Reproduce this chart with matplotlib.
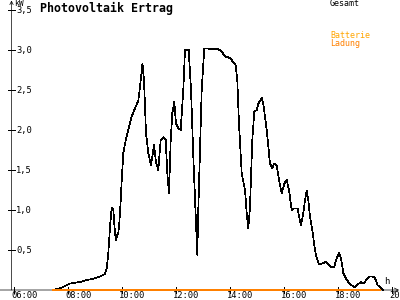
import matplotlib
matplotlib.use("Agg")
import matplotlib.pyplot as plt

# ---- data ----
gesamt_t = [7.456, 7.767, 8.074, 8.444, 8.693, 8.937, 9.185, 9.370, 9.433, 9.493,
            9.556, 9.619, 9.678, 9.741, 9.778, 9.826, 9.863, 9.900, 9.952, 9.989,
            10.048, 10.111, 10.233, 10.359, 10.481, 10.604, 10.667, 10.759, 10.815, 10.889,
            10.974, 11.074, 11.185, 11.259, 11.344, 11.433, 11.530, 11.619, 11.678, 11.741,
            11.804, 11.863, 11.937, 12.000, 12.085, 12.174, 12.270, 12.333, 12.470, 12.556,
            12.641, 12.741, 12.789, 12.815, 12.889, 12.952, 13.048, 13.567, 13.693, 13.815,
            14.000, 14.211, 14.270, 14.333, 14.433, 14.556, 14.619, 14.678, 14.741, 14.826,
            14.900, 14.989, 15.048, 15.174, 15.233, 15.359, 15.481, 15.567, 15.630, 15.730,
            15.815, 15.915, 16.011, 16.100, 16.185, 16.285, 16.381, 16.507, 16.556, 16.630,
            16.715, 16.778, 16.841, 16.900, 16.963, 17.048, 17.148, 17.211, 17.296, 17.419,
            17.544, 17.641, 17.767, 17.863, 17.952, 18.037, 18.111, 18.196, 18.285, 18.381,
            18.507, 18.604, 18.730, 18.852, 18.937, 19.063, 19.185, 19.285, 19.370, 19.470,
            19.593, 19.678]
gesamt_kw = [0.0, 0.03, 0.08, 0.10, 0.125, 0.14, 0.17, 0.20, 0.27, 0.46,
             0.79, 1.03, 1.00, 0.71, 0.62, 0.69, 0.71, 0.83, 1.12, 1.37,
             1.71, 1.83, 2.00, 2.17, 2.27, 2.37, 2.54, 2.83, 2.62, 1.96,
             1.71, 1.56, 1.81, 1.60, 1.50, 1.875, 1.91, 1.875, 1.46, 1.21,
             1.875, 2.21, 2.35, 2.08, 2.02, 2.00, 2.50, 3.00, 3.00, 2.50,
             1.67, 0.83, 0.44, 0.875, 1.75, 2.50, 3.02, 3.01, 2.98, 2.92,
             2.90, 2.81, 2.62, 2.08, 1.46, 1.25, 0.96, 0.77, 1.04, 1.875,
             2.23, 2.25, 2.33, 2.40, 2.33, 2.00, 1.58, 1.52, 1.58, 1.56,
             1.375, 1.21, 1.33, 1.375, 1.25, 1.00, 1.02, 1.02, 0.92, 0.81,
             0.96, 1.125, 1.24, 1.125, 0.92, 0.75, 0.50, 0.40, 0.325, 0.33,
             0.35, 0.325, 0.28, 0.29, 0.40, 0.46, 0.40, 0.21, 0.15, 0.10,
             0.06, 0.03, 0.07, 0.10, 0.08, 0.13, 0.17, 0.17, 0.15, 0.06,
             0.03, 0.0]
batterie_t = [7.44, 19.56]
batterie_kw = [0.0, 0.0]

x_ticks = [6, 8, 10, 12, 14, 16, 18, 20]
x_labels = ["06:00", "08:00", "10:00", "12:00", "14:00", "16:00", "18:00", "20:00"]
y_ticks = [0.5, 1.0, 1.5, 2.0, 2.5, 3.0, 3.5]
y_labels = ["0,5", "1,0", "1,5", "2,0", "2,5", "3,0", "3,5"]

# ---- layout (pixel mapping) ----
W, H = 400, 300
PX_H = 27.0      # pixels per hour
PX_KW = 80.0     # pixels per kW
X0_PX, Y0_PX = 14.0, 290.0   # pixel of 06:00 / 0 kW


def tx(px):
    return 6 + (px - X0_PX) / PX_H


def vy(py):
    return (Y0_PX - py) / PX_KW


fig = plt.figure(figsize=(4, 3), dpi=100)
ax = fig.add_axes([0, 0, 1, 1])
ax.set_xlim(tx(0), tx(W))
ax.set_ylim(vy(H), vy(0))
ax.axis("off")

mono = "DejaVu Sans Mono"
ORANGE = "#FF8000"
GOLD = "#FFA500"
LW = 0.5

# axes
ax_x = tx(11.5)
ax.annotate("", xy=(tx(399), 0), xytext=(tx(0), 0),
            arrowprops=dict(arrowstyle="->", lw=LW, color="black",
                            mutation_scale=7, shrinkA=0, shrinkB=0))
ax.annotate("", xy=(ax_x, vy(0.5)), xytext=(ax_x, 0),
            arrowprops=dict(arrowstyle="->", lw=LW, color="black",
                            mutation_scale=6, shrinkA=0, shrinkB=0))

for v, lab in zip(y_ticks, y_labels):
    ax.plot([tx(8), tx(15)], [v, v], color="black", lw=LW, antialiased=False)
    ax.text(tx(16), v, lab, fontsize=6.3, family=mono, ha="left", va="center")

for t, lab in zip(x_ticks, x_labels):
    ax.plot([t, t], [vy(287), vy(293)], color="black", lw=LW, antialiased=False)
    ax.text(t - 3 / PX_H, vy(295.5), lab, fontsize=6.3, family=mono,
            ha="left", va="center")

ax.text(tx(14), vy(4), "kW", fontsize=5.8, family=mono, ha="left", va="center")
ax.text(tx(384), vy(282), "h", fontsize=6.5, family=mono, ha="left", va="center")

# series
ax.plot(gesamt_t, gesamt_kw, color="black", lw=LW, antialiased=False)
ax.plot(batterie_t, batterie_kw, color=ORANGE, lw=1.1, antialiased=False, zorder=5)

# title & legend
ax.text(tx(40), vy(8), "Photovoltaik Ertrag", fontsize=8.4, family=mono,
        weight="bold", ha="left", va="center")
ax.text(tx(330), vy(4), "Gesamt", fontsize=6.0, family=mono, ha="left", va="center")
ax.text(tx(330), vy(36), "Batterie", fontsize=6.0, family=mono, color=GOLD,
        ha="left", va="center")
ax.text(tx(330), vy(44), "Ladung", fontsize=6.0, family=mono, color=ORANGE,
        ha="left", va="center")

fig.savefig("out.png", dpi=100)
